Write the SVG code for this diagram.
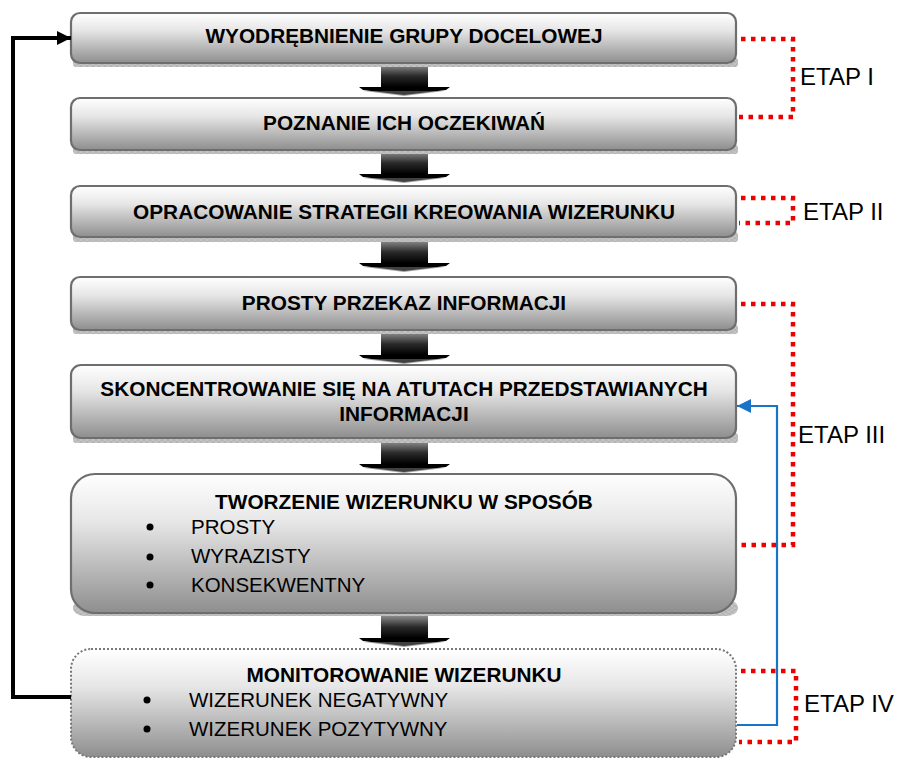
<svg xmlns="http://www.w3.org/2000/svg" width="905" height="759" viewBox="0 0 905 759">
<defs>
<linearGradient id="boxg" x1="0" y1="0" x2="0" y2="1">
<stop offset="0" stop-color="#ffffff"/>
<stop offset="0.35" stop-color="#e6e6e6"/>
<stop offset="1" stop-color="#8e8e8e"/>
</linearGradient>
<linearGradient id="shaftg" x1="0" y1="0" x2="0" y2="1">
<stop offset="0" stop-color="#8a8a8a"/>
<stop offset="0.5" stop-color="#2a2a2a"/>
<stop offset="1" stop-color="#000000"/>
</linearGradient>
<pattern id="hatch" width="6" height="4" patternUnits="userSpaceOnUse">
<rect width="6" height="4" fill="#c4c4c4"/>
<path d="M0 0L6 4M6 0L0 4" stroke="#a8a8a8" stroke-width="0.6"/>
</pattern>
<marker id="blk" markerWidth="14" markerHeight="14" refX="14" refY="7" orient="auto" markerUnits="userSpaceOnUse">
<path d="M0 0L14 7L0 14z" fill="#000"/>
</marker>
<marker id="blu" markerWidth="14" markerHeight="14" refX="14" refY="7" orient="auto" markerUnits="userSpaceOnUse">
<path d="M0 0L14 7L0 14z" fill="#1874c6"/>
</marker>
<g id="barrow">
<rect x="-23" y="0" width="47" height="22" fill="url(#shaftg)"/>
<path d="M-45 22L46 22L42 25L0 30L-41 25Z" fill="#000"/>
<path d="M-40 26L40 26L0 31Z" fill="#6a6a6a" opacity="0.6"/>
</g>
</defs>
<style>
.box{fill:url(#boxg);stroke:#6e6e6e;stroke-width:2.2}
.shadow{fill:url(#hatch)}
.dot{fill:none;stroke:#ee0000;stroke-width:4.5;stroke-dasharray:4.5 5.5}
.t{font-family:"Liberation Sans",Arial,sans-serif;font-size:20.8px;font-weight:bold;fill:#000;text-anchor:middle}
.r{font-family:"Liberation Sans",Arial,sans-serif;font-size:20.5px;fill:#000}
.etap{font-family:"Liberation Sans",Arial,sans-serif;font-size:24px;fill:#000}
</style>
<rect width="905" height="759" fill="#fff"/>

<g id="arrows">
<use href="#barrow" x="404" y="65"/>
<use href="#barrow" x="404" y="152"/>
<use href="#barrow" x="404" y="241"/>
<use href="#barrow" x="404" y="333"/>
<use href="#barrow" x="404" y="442"/>
<use href="#barrow" x="404" y="616"/>
</g>

<g id="n1">
<rect class="shadow" x="73" y="58" width="665" height="9" rx="3"/>
<rect class="box" x="71" y="13" width="665" height="50" rx="9"/>
<text class="t" x="404" y="43">WYODRĘBNIENIE GRUPY DOCELOWEJ</text>
</g>
<g id="n2">
<rect class="shadow" x="73" y="145" width="665" height="9" rx="3"/>
<rect class="box" x="71" y="98" width="665" height="52" rx="9"/>
<text class="t" x="404" y="130">POZNANIE ICH OCZEKIWAŃ</text>
</g>
<g id="n3">
<rect class="shadow" x="73" y="232" width="665" height="10" rx="3"/>
<rect class="box" x="71" y="186" width="665" height="51" rx="9"/>
<text class="t" x="404" y="219">OPRACOWANIE STRATEGII KREOWANIA WIZERUNKU</text>
</g>
<g id="n4">
<rect class="shadow" x="73" y="325" width="665" height="9" rx="3"/>
<rect class="box" x="71" y="277" width="665" height="53" rx="9"/>
<text class="t" x="404" y="310">PROSTY PRZEKAZ INFORMACJI</text>
</g>
<g id="n5">
<rect class="shadow" x="73" y="433" width="665" height="10" rx="3"/>
<rect class="box" x="71" y="365" width="665" height="73" rx="10"/>
<text class="t" x="404" y="396">SKONCENTROWANIE SIĘ NA ATUTACH PRZEDSTAWIANYCH</text>
<text class="t" x="404" y="421">INFORMACJI</text>
</g>
<g id="n6">
<rect class="shadow" x="73" y="600" width="665" height="16" rx="12"/>
<rect class="box" x="71" y="474" width="665" height="139" rx="24"/>
<text class="t" x="404" y="509">TWORZENIE WIZERUNKU W SPOSÓB</text>
<circle cx="150" cy="527" r="3.5"/>
<circle cx="150" cy="557" r="3.5"/>
<circle cx="150" cy="585" r="3.5"/>
<text class="r" x="191" y="534">PROSTY</text>
<text class="r" x="191" y="563">WYRAZISTY</text>
<text class="r" x="191" y="592">KONSEKWENTNY</text>
</g>
<g id="n7">
<rect x="71" y="649" width="665" height="108" rx="20" fill="url(#boxg)" stroke="#777" stroke-width="2" stroke-dasharray="2 2"/>
<text class="t" x="404" y="682">MONITOROWANIE WIZERUNKU</text>
<circle cx="147" cy="700" r="3.5"/>
<circle cx="147" cy="729" r="3.5"/>
<text class="r" x="189" y="707">WIZERUNEK NEGATYWNY</text>
<text class="r" x="189" y="736">WIZERUNEK POZYTYWNY</text>
</g>

<g id="connectors">
<polyline points="71,697 13,697 13,38 71,38" fill="none" stroke="#000" stroke-width="4" marker-end="url(#blk)"/>
<polyline points="737,725 777,725 777,406 737,406" fill="none" stroke="#1874c6" stroke-width="2.2" marker-end="url(#blu)"/>
<polyline class="dot" points="741,39 793,39 793,117 739,117"/>
<polyline class="dot" points="741,198 793,198 793,223 739,223"/>
<polyline class="dot" points="741,304 793,304 793,545 739,545"/>
<polyline class="dot" points="741,671 796,671 796,742 739,742"/>
</g>

<g id="labels">
<text class="etap" x="800" y="85">ETAP I</text>
<text class="etap" x="803" y="220">ETAP II</text>
<text class="etap" x="798" y="443">ETAP III</text>
<text class="etap" x="804" y="712">ETAP IV</text>
</g>
</svg>
